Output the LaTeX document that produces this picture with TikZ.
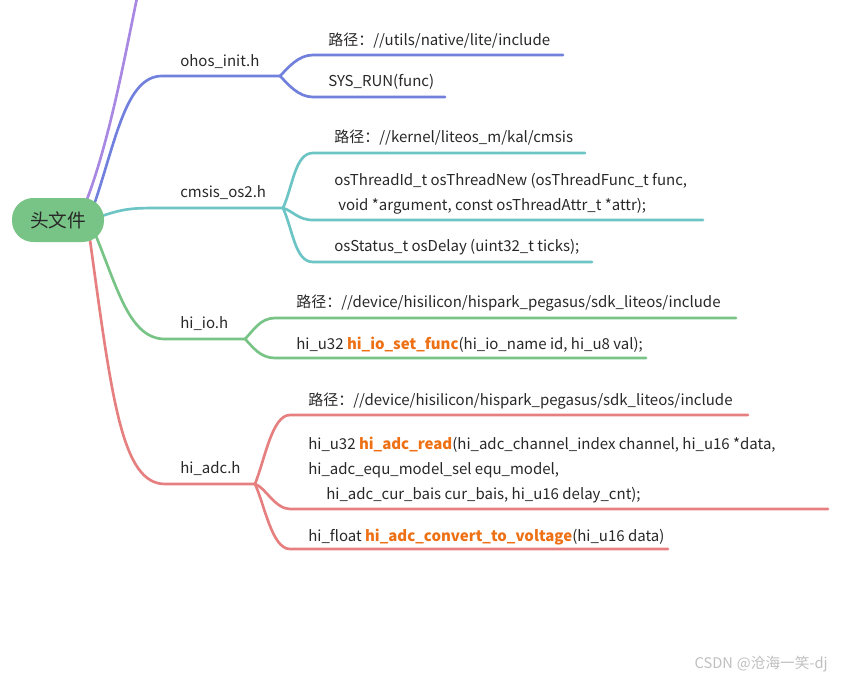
\documentclass[tikz,border=0pt]{standalone}
\usepackage{fontspec}
\setmainfont{Noto Sans CJK SC}
\usetikzlibrary{backgrounds,calc}

\definecolor{rootgreen}{RGB}{120,195,134}
\definecolor{brpurple}{RGB}{168,136,226}
\definecolor{brblue}{RGB}{112,128,220}
\definecolor{brteal}{RGB}{108,196,196}
\definecolor{brgreen}{RGB}{120,195,134}
\definecolor{brred}{RGB}{230,128,128}
\definecolor{fnorange}{RGB}{238,112,20}
\definecolor{txtgray}{RGB}{40,40,40}
\newcommand{\fnname}[1]{\textcolor{fnorange}{\bfseries #1}}

\begin{document}
\begin{tikzpicture}[x=0.75pt, y=-0.75pt,
  root/.style={fill=rootgreen, rounded corners=16pt, minimum width=69pt, minimum height=33pt, font=\fontsize{14}{16}\selectfont, text=txtgray},
  topic/.style={anchor=base west, inner sep=0pt, font=\fontsize{11.25}{13}\selectfont, text=txtgray},
  leaf/.style={anchor=base west, inner sep=0pt, align=left, font=\fontsize{11.25}{18.75}\selectfont, text=txtgray},
  br/.style={line width=2pt, line cap=round}
]
\useasboundingbox (0,0) rectangle (841,678);

\node[root] (root) at (58,220) {头文件};

% branch titles
\node[topic] (ohos) at (180,66) {ohos\_init.h};
\node[topic] (cmsis) at (180,197) {cmsis\_os2.h};
\node[topic] (hiio) at (180,328) {hi\_io.h};
\node[topic] (hiadc) at (180,473) {hi\_adc.h};

% leaves (base = last line)
\node[leaf] (ohosPath) at (328,45) {路径：//utils/native/lite/include};
\node[leaf] (ohosRun) at (328,86) {SYS\_RUN(func)};
\node[leaf] (cmsisPath) at (334,142) {路径：//kernel/liteos\_m/kal/cmsis};
\node[leaf] (cmsisNew) at (334,210) {osThreadId\_t osThreadNew (osThreadFunc\_t func,\\\hspace{3pt}void *argument, const osThreadAttr\_t *attr);};
\node[leaf] (cmsisDelay) at (334,251) {osStatus\_t osDelay (uint32\_t ticks);};
\node[leaf] (hiioPath) at (296,307) {路径：//device/hisilicon/hispark\_pegasus/sdk\_liteos/include};
\node[leaf] (hiioFunc) at (296,349) {hi\_u32 \fnname{hi\_io\_set\_func}(hi\_io\_name id, hi\_u8 val);};
\node[leaf] (hiadcPath) at (308,405) {路径：//device/hisilicon/hispark\_pegasus/sdk\_liteos/include};
\node[leaf] (hiadcRead) at (308,499) {hi\_u32 \fnname{hi\_adc\_read}(hi\_adc\_channel\_index channel, hi\_u16 *data,\\hi\_adc\_equ\_model\_sel equ\_model,\\\hspace{13.5pt}hi\_adc\_cur\_bais cur\_bais, hi\_u16 delay\_cnt);};
\node[leaf] (hiadcVolt) at (308,541) {hi\_float \fnname{hi\_adc\_convert\_to\_voltage}(hi\_u16 data)};

\node[anchor=base east, inner sep=0pt, font=\fontsize{11}{12}\selectfont, text=black!25] (mark) at (828,668) {CSDN\hspace{3pt}@沧海一笑-dj};

% line ends
\coordinate (cut) at (137,-2);
\coordinate (ohosL) at (162,76);   \coordinate (ohosF) at (280,76);
\coordinate (cmsisL) at (162,208); \coordinate (cmsisF) at (283,208);
\coordinate (hiioL) at (165,339);  \coordinate (hiioF) at (245,339);
\coordinate (hiadcL) at (165,484); \coordinate (hiadcF) at (255,484);

\begin{scope}[on background layer]
\draw[br, brpurple] ([shift={(28,-18)}]root.center) .. controls (110,140) and (126,50) .. (cut);
\draw[br, brblue] ([shift={(36,-15)}]root.center) .. controls (116,140) and (126,76) .. (ohosL) -- (ohosF);
\draw[br, brteal] ([shift={(44,-4)}]root.center) .. controls (125,208) and (135,208) .. (cmsisL) -- (cmsisF);
\draw[br, brgreen] ([shift={(38,16)}]root.center) .. controls (118,290) and (130,339) .. (hiioL) -- (hiioF);
\draw[br, brred] ([shift={(32,20)}]root.center) .. controls (112,400) and (122,484) .. (hiadcL) -- (hiadcF);
\end{scope}

% forks
\draw[br, brblue] (ohosF) .. controls +(8,-8) and +(-15,0) .. (313,55) -- (563,55);
\draw[br, brblue] (ohosF) .. controls +(8,8) and +(-15,0) .. (313,97) -- (445,97);
\draw[br, brteal] (cmsisF) .. controls +(10,-22) and +(-18,0) .. (313,153) -- (585,153);
\draw[br, brteal] (cmsisF) .. controls +(10,3) and +(-15,0) .. (313,220) -- (703,220);
\draw[br, brteal] (cmsisF) .. controls +(10,22) and +(-18,0) .. (313,262) -- (592,262);
\draw[br, brgreen] (hiioF) .. controls +(8,-8) and +(-15,0) .. (275,318) -- (736,318);
\draw[br, brgreen] (hiioF) .. controls +(8,8) and +(-15,0) .. (275,358) -- (646,358);
\draw[br, brred] (hiadcF) .. controls +(10,-25) and +(-18,0) .. (290,415) -- (748,415);
\draw[br, brred] (hiadcF) .. controls +(10,3) and +(-15,0) .. (290,509) -- (828,509);
\draw[br, brred] (hiadcF) .. controls +(10,22) and +(-18,0) .. (290,549) -- (668,549);
\end{tikzpicture}
\end{document}
